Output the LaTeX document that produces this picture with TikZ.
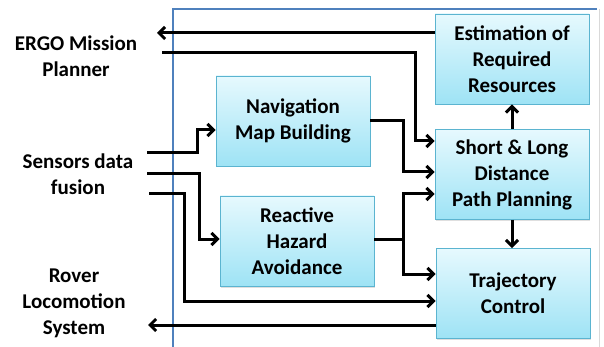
\documentclass[tikz,border=0pt]{standalone}
\usepackage{fontspec}
\setmainfont{Carlito}
\usetikzlibrary{arrows.meta,shadows}
\definecolor{boxtop}{HTML}{E6F9FE}
\definecolor{boxbot}{HTML}{9EE3F5}
\definecolor{boxline}{HTML}{5BB4D0}
\definecolor{frameblue}{HTML}{4F81BD}
\begin{document}
\begin{tikzpicture}[x=1pt,y=-1pt,
  blk/.style={draw=boxline, line width=0.9pt, top color=boxtop, bottom color=boxbot,
    minimum width=154pt, minimum height=90pt, align=center, inner sep=2pt,
    font=\fontsize{21}{26}\selectfont\bfseries,
    drop shadow={opacity=0.25, shadow xshift=1pt, shadow yshift=-1.5pt}},
  lbl/.style={align=center, font=\fontsize{21}{26}\selectfont\bfseries},
  conn/.style={line width=3pt, line join=miter},
  arr/.style={conn, -{Straight Barb[length=6pt,width=12pt,line width=3pt]}}]
\useasboundingbox (0,0) rectangle (604,347);
% frame
\draw[frameblue, line width=1.6pt] (173,347) -- (173,9) -- (597,9);
\draw[black!15, line width=0.8pt] (599,9) -- (599,347);
% boxes
\node[blk] (est) at (512,59) {Estimation of\\Required\\Resources};
\node[blk] (short) at (512,174.5) {Short \& Long\\Distance\\Path Planning};
\node[blk] (traj) at (513,293.5) {Trajectory\\Control};
\node[blk] (nav) at (293,121) {Navigation\\Map Building};
\node[blk] (react) at (297,241) {Reactive\\Hazard\\Avoidance};
% left labels
\node[lbl] (ergo) at (76,56) {ERGO Mission\\Planner};
\node[lbl] (sens) at (78,174) {Sensors data\\fusion};
\node[lbl] (rover) at (74,303) {Rover\\Locomotion\\System};
% free ends
\coordinate (ergoIn) at (157,33);
\coordinate (ergoOut) at (162,53);
\coordinate (sensA) at (147,153);
\coordinate (sensB) at (147,174);
\coordinate (sensC) at (149,194);
\coordinate (roverIn) at (148,325);
% connectors
\draw[arr] (est.west |- ergoIn) -- (ergoIn);
\draw[arr] (ergoOut) -- (415,53) -- (415,141) -- (short.west |- 0,141);
\draw[arr] (nav.east |- 0,121) -- (403,121) -- (403,172) -- (short.west |- 0,172);
\draw[conn] (react.east |- 0,239) -- (403,239);
\draw[arr] (403,239) -- (403,194) -- (short.west |- 0,194);
\draw[arr] (403,237) -- (403,274) -- (traj.west |- 0,274);
\draw[arr] (sensA) -- (197,153) -- (197,130) -- (nav.west |- 0,130);
\draw[arr] (sensB) -- (199,174) -- (199,239) -- (react.west |- 0,239);
\draw[arr] (sensC) -- (184,194) -- (184,301) -- (traj.west |- 0,301);
\draw[arr] (traj.west |- 0,325) -- (roverIn);
\draw[arr] (short.north) -- (est.south);
\draw[arr] (short.south) -- (traj.north -| short.south);
\end{tikzpicture}
\end{document}
